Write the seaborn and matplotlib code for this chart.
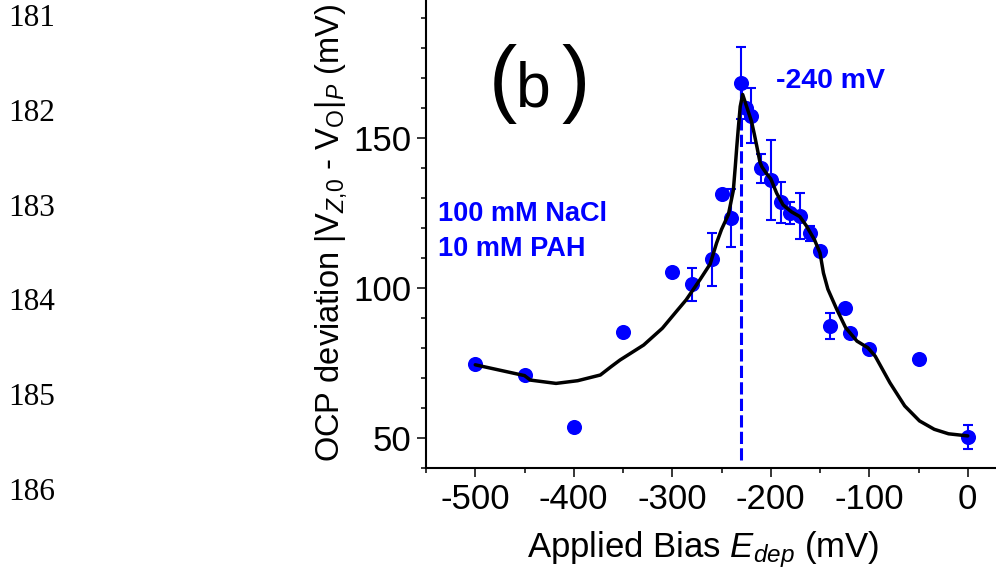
import numpy as np
import pandas as pd
import matplotlib
matplotlib.use("Agg")
import matplotlib.pyplot as plt
from matplotlib.ticker import MultipleLocator
import seaborn as sns

# ---------------- data ----------------
bias_mv = [-500, -450, -400, -350, -300, -280, -260, -250, -240, -230, -225, -220,
           -210, -200, -190, -180, -170, -160, -150, -140, -125, -120, -100, -50, 0]
ocp_mv = [74.6, 71.0, 53.7, 85.3, 105.4, 101.2, 109.6, 131.4, 123.4, 168.3, 160.0, 157.4,
          139.9, 136.0, 128.6, 125.1, 124.0, 118.2, 112.4, 87.3, 93.2, 85.1, 79.6, 76.2, 50.4]
err_mv = [0, 0, 0, 0, 0, 5.6, 8.8, 0, 9.6, 12.1, 0, 9.2,
          4.8, 13.2, 6.8, 3.7, 7.6, 2.4, 0, 4.3, 0, 0, 0, 0, 3.9]

fit_bias = [-500, -450, -444, -418, -396, -373, -362, -353, -329, -310, -295, -286, -272,
            -261.5, -255, -250, -243, -238, -236, -234.5, -233, -231, -228.5, -224.5,
            -219.5, -216.5, -214, -211, -209, -204, -200, -194, -187.5, -179, -170.5,
            -164, -155.5, -150, -146.5, -142, -133, -124, -112.5, -101.5, -94, -79,
            -64, -49, -34, -19.5, 0]
fit_ocp = [74.4, 70.8, 69.3, 68.2, 69.1, 71.0, 73.8, 76.0, 81.0, 86.6, 92.5, 96.0, 102.7,
           108.0, 115.0, 119.5, 124.5, 132.5, 140.5, 147.0, 153.0, 160.5, 164.5, 160.5,
           155.5, 151.0, 147.0, 142.0, 140.4, 138.0, 136.4, 131.6, 127.7, 125.4, 123.8,
           120.8, 116.0, 111.7, 105.0, 99.6, 92.9, 86.8, 82.3, 80.1, 77.3, 68.4,
           60.7, 55.7, 52.9, 51.4, 50.7]

peak_bias = -230
peak_line_range = [42.7, 168.0]

x_ticks = [-500, -400, -300, -200, -100, 0]
y_ticks = [50, 100, 150]
line_numbers = ["181", "182", "183", "184", "185", "186"]

# ---------------- style ----------------
sns.set_style("ticks")
plt.rcParams['font.family'] = ['Liberation Sans', 'DejaVu Sans']
plt.rcParams['axes.unicode_minus'] = False
plt.rcParams['mathtext.fontset'] = 'custom'
plt.rcParams['mathtext.rm'] = 'Liberation Sans'
plt.rcParams['mathtext.it'] = 'Liberation Sans:italic'
plt.rcParams['mathtext.bf'] = 'Liberation Sans:bold'
for k in ['text.color', 'axes.labelcolor', 'xtick.color', 'ytick.color', 'axes.edgecolor']:
    plt.rcParams[k] = 'black'

W, H = 996, 583
fig = plt.figure(figsize=(W / 100, H / 100), dpi=100)
fig.patch.set_facecolor('white')


def fx(x):
    return x / W


def fy(y):
    return 1 - y / H


ax_left, ax_right, ax_top, ax_bottom = 426, 1017, -12, 468
ax = fig.add_axes([fx(ax_left), fy(ax_bottom), (ax_right - ax_left) / W, (ax_bottom - ax_top) / H])
ax.set_facecolor('white')

BLUE = '#0000ff'
df = pd.DataFrame({'bias': bias_mv, 'ocp': ocp_mv, 'err': err_mv})
fit = pd.DataFrame({'bias': fit_bias, 'ocp': fit_ocp})

# dashed vertical line
ax.plot([peak_bias, peak_bias], peak_line_range, color=BLUE, lw=2.2,
        dashes=(4.0, 1.4), zorder=2)

# error bars
m = df['err'] > 0
ax.errorbar(df.loc[m, 'bias'], df.loc[m, 'ocp'], yerr=df.loc[m, 'err'], fmt='none',
            ecolor=BLUE, elinewidth=1.5, capsize=3.4, capthick=1.5, zorder=3)

# points
sns.scatterplot(data=df, x='bias', y='ocp', ax=ax, color=BLUE, s=118, linewidth=0,
                zorder=3, legend=False)

# fitted curve
sns.lineplot(data=fit, x='bias', y='ocp', ax=ax, sort=False, estimator=None,
             color='black', lw=2.5, zorder=4)

ax.set_xlim(-550, 50)
ax.set_ylim(40, 200)
ax.set_xticks(x_ticks)
ax.set_xticklabels([str(t) for t in x_ticks])
ax.set_yticks(y_ticks)
ax.set_yticklabels([str(t) for t in y_ticks])
ax.xaxis.set_minor_locator(MultipleLocator(50))
ax.yaxis.set_minor_locator(MultipleLocator(10))

for s in ['top', 'right']:
    ax.spines[s].set_visible(False)
for s in ['left', 'bottom']:
    ax.spines[s].set_linewidth(1.5)
    ax.spines[s].set_color('black')

ax.tick_params(axis='both', which='major', direction='out', length=6.3, width=1.1,
               labelsize=25, colors='black', pad=4.5)
ax.tick_params(axis='both', which='minor', direction='out', length=3.3, width=1.1,
               colors='black')

ax.set_xlabel(r"Applied Bias $E_{dep}$ (mV)", fontsize=25, color='black')
ax.set_ylabel(r"OCP deviation |V$_{\mathit{Z{,}0}}$ - V$_\mathrm{O}$|$_{\mathit{P}}$ (mV)",
              fontsize=23.5, color='black')
axw = ax_right - ax_left
axh = ax_bottom - ax_top
ax.xaxis.set_label_coords((703 - ax_left) / axw, (ax_bottom - 529) / axh)
ax.yaxis.set_label_coords((349 - ax_left) / axw, (ax_bottom - 233) / axh)

# panel label
fig.text(fx(489), fy(106.5), "(", fontsize=61, va='baseline', ha='left', color='black')
fig.text(fx(516), fy(106.5), "b", fontsize=45, va='baseline', ha='left', color='black')
fig.text(fx(561), fy(106.5), ")", fontsize=61, va='baseline', ha='left', color='black')

# annotations
fig.text(fx(776), fy(88.3), "-240 mV", fontsize=20.5, fontweight='bold', color=BLUE,
         va='baseline', ha='left')
fig.text(fx(438), fy(221), "100 mM NaCl", fontsize=19.5, fontweight='bold', color=BLUE,
         va='baseline', ha='left')
fig.text(fx(438), fy(256), "10 mM PAH", fontsize=19.5, fontweight='bold', color=BLUE,
         va='baseline', ha='left')

# document line numbers
for i, lab in enumerate(line_numbers):
    fig.text(fx(8), fy(26.5 + i * 94.6), lab, fontsize=22.5, va='baseline', ha='left',
             color='black', family=['Liberation Serif', 'DejaVu Serif'])

fig.savefig("out.png", dpi=100, facecolor='white')
